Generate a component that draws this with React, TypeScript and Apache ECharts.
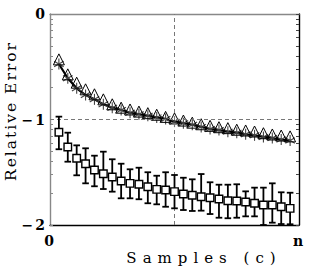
import React, { useEffect, useRef } from "react";
import * as echarts from "echarts";

// sample index (x) — axis runs from 0 to n (=28 steps)
const sampleIdx = [1, 2, 3, 4, 5, 6, 7, 8, 9, 10, 11, 12, 13, 14, 15, 16, 17, 18, 19, 20, 21, 22, 23, 24, 25, 26, 27];
const xMax = 28;
const xMid = 14;
const xLabelValues = [0, 28];
const xLabelTexts = ["0", "n"];

// log10 relative error
const triangleVals = [-0.43, -0.572, -0.651, -0.714, -0.761, -0.809, -0.856, -0.888, -0.905, -0.925, -0.94, -0.955, -0.975, -0.99, -1.01, -1.03, -1.045, -1.06, -1.073, -1.082, -1.097, -1.104, -1.114, -1.13, -1.142, -1.152, -1.16];
const asteriskVals = [-0.474, -0.609, -0.704, -0.768, -0.809, -0.856, -0.888, -0.91, -0.936, -0.95, -0.965, -0.98, -0.995, -1.02, -1.035, -1.05, -1.07, -1.09, -1.1, -1.115, -1.125, -1.14, -1.15, -1.165, -1.175, -1.19, -1.2];
const squareVals = [-1.121, -1.261, -1.368, -1.419, -1.479, -1.514, -1.545, -1.583, -1.605, -1.614, -1.637, -1.662, -1.668, -1.684, -1.706, -1.718, -1.732, -1.741, -1.754, -1.77, -1.773, -1.782, -1.794, -1.81, -1.81, -1.827, -1.842];
const squareHigh = [-0.973, -1.125, -1.245, -1.273, -1.343, -1.305, -1.377, -1.419, -1.472, -1.457, -1.5, -1.533, -1.5, -1.526, -1.552, -1.567, -1.517, -1.595, -1.618, -1.618, -1.614, -1.681, -1.646, -1.646, -1.605, -1.69, -1.694];
const squareLow = [-1.282, -1.4, -1.529, -1.605, -1.633, -1.659, -1.684, -1.747, -1.747, -1.756, -1.794, -1.804, -1.827, -1.842, -1.858, -1.867, -1.864, -1.896, -1.931, -1.936, -1.931, -1.918, -1.918, -2.0, -1.978, -1.991, -1.993];

const yLabelValues = [0, -1, -2];
const yTickValues = [0, -0.046, -0.097, -0.155, -0.222, -0.301, -0.398, -0.523, -0.699, -1, -1.046, -1.097, -1.155, -1.222, -1.301, -1.398, -1.523, -1.699, -2];

const SERIF = "'DejaVu Serif', serif";

const css = `
.chart text[style*="14px"] { letter-spacing: 2px; }
.chart text[style*="15px"] { letter-spacing: 6px; }
.chart text[style*="15.5px"] { letter-spacing: 2px; }
`;

export default function App() {
  const ref = useRef<HTMLDivElement>(null);
  useEffect(() => {
    if (!ref.current) return;
    const chart = echarts.init(ref.current, null, { renderer: "svg" });
    const tickLabel = {
      fontFamily: SERIF,
      fontWeight: "bold" as const,
      fontSize: 14,
      color: "#000",
    };
    const option: any = {
      animation: false,
      backgroundColor: "#fff",
      grid: { left: 50, right: 14, top: 14, bottom: 52 },
      xAxis: [
        {
          type: "value",
          min: 0,
          max: xMax,
          position: "bottom",
          axisLine: { show: true, onZero: false, lineStyle: { color: "#000", width: 1.4 } },
          axisTick: { show: false },
          splitLine: { show: false },
          axisLabel: {
            ...tickLabel,
            customValues: xLabelValues,
            showMinLabel: true,
            showMaxLabel: true,
            margin: 9,
            formatter: (v: number) => xLabelTexts[xLabelValues.indexOf(v)] ?? "",
          },
        },
        {
          type: "value",
          min: 0,
          max: xMax,
          position: "top",
          axisLine: { show: true, onZero: false, lineStyle: { color: "#888", width: 1.4 } },
          axisTick: { show: false },
          splitLine: { show: false },
          axisLabel: { show: false },
        },
      ],
      yAxis: [
        {
          type: "value",
          min: -2,
          max: 0,
          position: "left",
          axisLine: { show: true, onZero: false, lineStyle: { color: "#888", width: 1.4 } },
          axisTick: { show: true, inside: true, length: 3, customValues: yTickValues, lineStyle: { color: "#888", width: 1 } },
          splitLine: { show: false },
          axisLabel: {
            ...tickLabel,
            customValues: yLabelValues,
            margin: 3,
            formatter: (v: number) => (v < 0 ? "\u2212" + Math.abs(v) : String(v)),
          },
        },
        {
          type: "value",
          min: -2,
          max: 0,
          position: "right",
          axisLine: { show: true, onZero: false, lineStyle: { color: "#000", width: 1.4 } },
          axisTick: { show: true, inside: true, length: 3, customValues: yTickValues, lineStyle: { color: "#444", width: 1 } },
          splitLine: { show: false },
          axisLabel: { show: false },
        },
      ],
      graphic: [
        {
          type: "text",
          x: 204,
          y: 258,
          style: {
            text: "Samples (c)",
            fontFamily: SERIF,
            fontSize: 15,
            fill: "#000",
            textAlign: "center",
            textVerticalAlign: "middle",
            align: "center",
            verticalAlign: "middle",
          },
        },
        {
          type: "text",
          x: 11,
          y: 111,
          rotation: Math.PI / 2,
          style: {
            text: "Relative Error",
            fontFamily: SERIF,
            fontSize: 15.5,
            fill: "#000",
            textAlign: "center",
            textVerticalAlign: "middle",
            align: "center",
            verticalAlign: "middle",
          },
        },
      ],
      series: [
        {
          type: "line",
          data: [],
          silent: true,
          markLine: {
            silent: true,
            symbol: ["none", "none"],
            label: { show: false },
            lineStyle: { type: [4, 3], color: "#777", width: 1 },
            data: [{ yAxis: -1 }, { xAxis: xMid }],
          },
        },
        {
          type: "line",
          data: sampleIdx.map((x, i) => [x, asteriskVals[i]]),
          showSymbol: false,
          lineStyle: { color: "#000", width: 2.2 },
          z: 2,
        },
        {
          type: "custom",
          data: sampleIdx.map((x, i) => [x, asteriskVals[i]]),
          encode: { x: 0, y: 1 },
          z: 3,
          renderItem: (_p: any, api: any) => {
            const p = api.coord([api.value(0), api.value(1)]);
            const r = 5.5;
            const s = { stroke: "#444", lineWidth: 1.1 };
            return {
              type: "group",
              children: [
                { type: "line", shape: { x1: p[0], y1: p[1] - r, x2: p[0], y2: p[1] + r }, style: s },
                { type: "line", shape: { x1: p[0] - r * 0.866, y1: p[1] - r * 0.5, x2: p[0] + r * 0.866, y2: p[1] + r * 0.5 }, style: s },
                { type: "line", shape: { x1: p[0] - r * 0.866, y1: p[1] + r * 0.5, x2: p[0] + r * 0.866, y2: p[1] - r * 0.5 }, style: s },
              ],
            };
          },
        },
        {
          type: "scatter",
          data: sampleIdx.map((x, i) => [x, triangleVals[i]]),
          symbol: "triangle",
          symbolSize: [11, 11],
          itemStyle: { color: "rgba(0,0,0,0)", borderColor: "#000", borderWidth: 1, opacity: 1 },
          z: 4,
        },
        {
          type: "custom",
          data: sampleIdx.map((x, i) => [x, squareLow[i], squareHigh[i]]),
          encode: { x: 0, y: [1, 2] },
          z: 5,
          renderItem: (_p: any, api: any) => {
            const x = api.value(0);
            const lo = api.coord([x, api.value(1)]);
            const hi = api.coord([x, api.value(2)]);
            const w = 3.3;
            const s = { stroke: "#000", lineWidth: 1.8 };
            return {
              type: "group",
              children: [
                { type: "line", shape: { x1: lo[0], y1: lo[1], x2: hi[0], y2: hi[1] }, style: s },
                { type: "line", shape: { x1: hi[0] - w, y1: hi[1], x2: hi[0] + w, y2: hi[1] }, style: s },
                { type: "line", shape: { x1: lo[0] - w, y1: lo[1], x2: lo[0] + w, y2: lo[1] }, style: s },
              ],
            };
          },
        },
        {
          type: "scatter",
          data: sampleIdx.map((x, i) => [x, squareVals[i]]),
          symbol: "rect",
          symbolSize: 7.5,
          itemStyle: { color: "#fff", borderColor: "#000", borderWidth: 1.4, opacity: 1 },
          z: 6,
        },
      ],
    };
    chart.setOption(option);
    return () => chart.dispose();
  }, []);
  return (
    <>
      <style>{css}</style>
      <div
        ref={ref}
        className="chart"
        style={{ position: "fixed", left: 0, top: 0, width: 313, height: 277, background: "#fff" }}
      />
    </>
  );
}
